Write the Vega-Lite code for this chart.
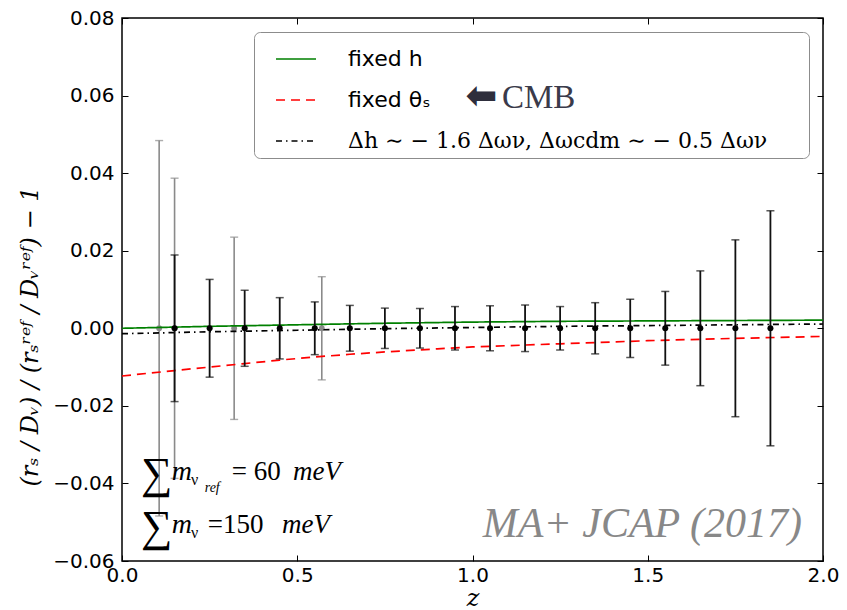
{
  "$schema": "https://vega.github.io/schema/vega-lite/v6.json",
  "width": 701,
  "height": 543,
  "autosize": {"type": "none"},
  "padding": {"left": 122, "top": 18, "right": 24, "bottom": 49},
  "background": "white",
  "config": {
    "view": {"stroke": "#000", "strokeWidth": 1.5},
    "axis": {
      "domain": false, "grid": false, "ticks": true, "tickColor": "#000",
      "tickSize": -6, "tickWidth": 1, "labelFont": "DejaVu Sans",
      "labelFontSize": 20, "labelColor": "#000", "labelFlush": false
    }
  },
  "datasets": {
    "curves": [
      {"z": 0.0, "v": 0.0, "series": "fixed h"},
      {"z": 0.1, "v": 0.0002, "series": "fixed h"},
      {"z": 0.25, "v": 0.0005, "series": "fixed h"},
      {"z": 0.5, "v": 0.0009, "series": "fixed h"},
      {"z": 0.75, "v": 0.0013, "series": "fixed h"},
      {"z": 1.0, "v": 0.0016, "series": "fixed h"},
      {"z": 1.25, "v": 0.0018, "series": "fixed h"},
      {"z": 1.5, "v": 0.0019, "series": "fixed h"},
      {"z": 1.75, "v": 0.002, "series": "fixed h"},
      {"z": 2.0, "v": 0.0021, "series": "fixed h"},
      {"z": 0.0, "v": -0.0123, "series": "fixed θₛ"},
      {"z": 0.15, "v": -0.0109, "series": "fixed θₛ"},
      {"z": 0.25, "v": -0.01, "series": "fixed θₛ"},
      {"z": 0.35, "v": -0.0091, "series": "fixed θₛ"},
      {"z": 0.45, "v": -0.0082, "series": "fixed θₛ"},
      {"z": 0.55, "v": -0.0074, "series": "fixed θₛ"},
      {"z": 0.65, "v": -0.0067, "series": "fixed θₛ"},
      {"z": 0.75, "v": -0.0061, "series": "fixed θₛ"},
      {"z": 0.9, "v": -0.0053, "series": "fixed θₛ"},
      {"z": 1.0, "v": -0.0048, "series": "fixed θₛ"},
      {"z": 1.25, "v": -0.004, "series": "fixed θₛ"},
      {"z": 1.5, "v": -0.0032, "series": "fixed θₛ"},
      {"z": 1.75, "v": -0.0026, "series": "fixed θₛ"},
      {"z": 2.0, "v": -0.0021, "series": "fixed θₛ"},
      {"z": 0.0, "v": -0.0014, "series": "Δh  ∼  − 1.6 Δων,  Δωcdm  ∼  − 0.5 Δων"},
      {"z": 0.25, "v": -0.0009, "series": "Δh  ∼  − 1.6 Δων,  Δωcdm  ∼  − 0.5 Δων"},
      {"z": 0.5, "v": -0.0005, "series": "Δh  ∼  − 1.6 Δων,  Δωcdm  ∼  − 0.5 Δων"},
      {"z": 0.75, "v": -0.0001, "series": "Δh  ∼  − 1.6 Δων,  Δωcdm  ∼  − 0.5 Δων"},
      {"z": 1.0, "v": 0.0002, "series": "Δh  ∼  − 1.6 Δων,  Δωcdm  ∼  − 0.5 Δων"},
      {"z": 1.25, "v": 0.0005, "series": "Δh  ∼  − 1.6 Δων,  Δωcdm  ∼  − 0.5 Δων"},
      {"z": 1.5, "v": 0.0007, "series": "Δh  ∼  − 1.6 Δων,  Δωcdm  ∼  − 0.5 Δων"},
      {"z": 1.75, "v": 0.0009, "series": "Δh  ∼  − 1.6 Δων,  Δωcdm  ∼  − 0.5 Δων"},
      {"z": 2.0, "v": 0.0011, "series": "Δh  ∼  − 1.6 Δων,  Δωcdm  ∼  − 0.5 Δων"}
    ],
    "bars": [
      {"z": 0.106, "v": 0, "lo": -0.0484, "hi": 0.0484, "set": "gray"},
      {"z": 0.15, "v": 0, "lo": -0.0387, "hi": 0.0387, "set": "gray"},
      {"z": 0.32, "v": 0, "lo": -0.0235, "hi": 0.0235, "set": "gray"},
      {"z": 0.57, "v": 0, "lo": -0.0133, "hi": 0.0133, "set": "gray"},
      {"z": 0.15, "v": 0, "lo": -0.0189, "hi": 0.0189, "set": "black"},
      {"z": 0.25, "v": 0, "lo": -0.0126, "hi": 0.0126, "set": "black"},
      {"z": 0.35, "v": 0, "lo": -0.0098, "hi": 0.0098, "set": "black"},
      {"z": 0.45, "v": 0, "lo": -0.0079, "hi": 0.0079, "set": "black"},
      {"z": 0.55, "v": 0, "lo": -0.0068, "hi": 0.0068, "set": "black"},
      {"z": 0.65, "v": 0, "lo": -0.0059, "hi": 0.0059, "set": "black"},
      {"z": 0.75, "v": 0, "lo": -0.0052, "hi": 0.0052, "set": "black"},
      {"z": 0.85, "v": 0, "lo": -0.0051, "hi": 0.0051, "set": "black"},
      {"z": 0.95, "v": 0, "lo": -0.0056, "hi": 0.0056, "set": "black"},
      {"z": 1.05, "v": 0, "lo": -0.0058, "hi": 0.0058, "set": "black"},
      {"z": 1.15, "v": 0, "lo": -0.006, "hi": 0.006, "set": "black"},
      {"z": 1.25, "v": 0, "lo": -0.0056, "hi": 0.0056, "set": "black"},
      {"z": 1.35, "v": 0, "lo": -0.0066, "hi": 0.0066, "set": "black"},
      {"z": 1.45, "v": 0, "lo": -0.0075, "hi": 0.0075, "set": "black"},
      {"z": 1.55, "v": 0, "lo": -0.0095, "hi": 0.0095, "set": "black"},
      {"z": 1.65, "v": 0, "lo": -0.0148, "hi": 0.0148, "set": "black"},
      {"z": 1.75, "v": 0, "lo": -0.0228, "hi": 0.0228, "set": "black"},
      {"z": 1.85, "v": 0, "lo": -0.0303, "hi": 0.0303, "set": "black"}
    ],
    "one": [{}]
  },
  "resolve": {"axis": {"x": "independent", "y": "independent"}},
  "layer": [
    {
      "data": {"name": "bars"},
      "transform": [{"filter": "datum.set == 'gray'"}],
      "mark": {"type": "rule", "color": "#8a8a8a", "strokeWidth": 1.6},
      "encoding": {
        "x": {"field": "z", "type": "quantitative", "scale": {"domain": [0, 2], "nice": false},
              "axis": {"orient": "top", "values": [0, 0.5, 1, 1.5, 2], "labels": false, "title": null}},
        "y": {"field": "lo", "type": "quantitative", "scale": {"domain": [-0.06, 0.08], "nice": false, "zero": false},
              "axis": {"orient": "right", "values": [-0.06, -0.04, -0.02, 0, 0.02, 0.04, 0.06, 0.08], "labels": false, "title": null}},
        "y2": {"field": "hi"}
      }
    },
    {
      "data": {"name": "bars"},
      "transform": [{"filter": "datum.set == 'gray'"}],
      "mark": {"type": "tick", "orient": "horizontal", "color": "#8a8a8a", "size": 8, "thickness": 1.4},
      "encoding": {
        "x": {"field": "z", "type": "quantitative", "axis": null},
        "y": {"field": "lo", "type": "quantitative", "axis": null}
      }
    },
    {
      "data": {"name": "bars"},
      "transform": [{"filter": "datum.set == 'gray'"}],
      "mark": {"type": "tick", "orient": "horizontal", "color": "#8a8a8a", "size": 8, "thickness": 1.4},
      "encoding": {
        "x": {"field": "z", "type": "quantitative", "axis": null},
        "y": {"field": "hi", "type": "quantitative", "axis": null}
      }
    },
    {
      "data": {"name": "bars"},
      "transform": [{"filter": "datum.set == 'gray'"}],
      "mark": {"type": "circle", "color": "#8a8a8a", "size": 34, "opacity": 1},
      "encoding": {
        "x": {"field": "z", "type": "quantitative", "axis": null},
        "y": {"field": "v", "type": "quantitative", "axis": null}
      }
    },
    {
      "data": {"name": "curves"},
      "mark": {"type": "line", "strokeWidth": 1.7},
      "encoding": {
        "x": {"field": "z", "type": "quantitative", "scale": {"domain": [0, 2], "nice": false},
              "axis": {"orient": "bottom", "values": [0, 0.5, 1, 1.5, 2], "format": ".1f", "labelPadding": 10,
                       "title": "z", "titleFont": "DejaVu Serif", "titleFontStyle": "italic", "titleFontWeight": "normal",
                       "titleFontSize": 24, "titleY": 44, "titleBaseline": "alphabetic"}},
        "y": {"field": "v", "type": "quantitative", "scale": {"domain": [-0.06, 0.08], "nice": false, "zero": false},
              "axis": {"orient": "left", "values": [-0.06, -0.04, -0.02, 0, 0.02, 0.04, 0.06, 0.08], "format": ".2f",
                       "labelPadding": 14,
                       "title": "(rₛ / Dᵥ) / (rₛʳᵉᶠ / Dᵥʳᵉᶠ) − 1", "titleFont": "DejaVu Serif", "titleFontStyle": "italic",
                       "titleFontWeight": "normal", "titleFontSize": 24, "titleX": -92, "titleY": 318,
                       "titleBaseline": "middle", "titleAngle": -90}},
        "color": {
          "field": "series", "type": "nominal",
          "scale": {"domain": ["fixed h", "fixed θₛ", "Δh  ∼  − 1.6 Δων,  Δωcdm  ∼  − 0.5 Δων"], "range": ["#008000", "#ff0000", "#000000"]},
          "legend": {
            "orient": "none", "legendX": 132, "legendY": 14, "title": null,
            "symbolType": "stroke", "symbolSize": 1600, "symbolStrokeWidth": 1.7, "symbolOffset": 15,
            "padding": 6, "labelOffset": 31, "rowPadding": 9, "labelFont": "DejaVu Sans", "labelFontSize": 22,
            "labelColor": "#000", "labelLimit": 700, "strokeColor": "#8c8c8c", "cornerRadius": 6,
            "encode": {"labels": {"update": {"font": {"signal": "indexof(datum.label, 'Δh') >= 0 ? 'DejaVu Serif' : 'DejaVu Sans'"}}}}
          }
        },
        "strokeDash": {
          "field": "series", "type": "nominal",
          "scale": {"domain": ["fixed h", "fixed θₛ", "Δh  ∼  − 1.6 Δων,  Δωcdm  ∼  − 0.5 Δων"], "range": [[1, 0], [9, 6], [6, 4, 1.5, 4]]},
          "legend": {
            "orient": "none", "legendX": 132, "legendY": 14, "title": null,
            "symbolType": "stroke", "symbolSize": 1600, "symbolStrokeWidth": 1.7, "symbolOffset": 15,
            "padding": 6, "labelOffset": 31, "rowPadding": 9, "labelFont": "DejaVu Sans", "labelFontSize": 22,
            "labelColor": "#000", "labelLimit": 700, "strokeColor": "#8c8c8c", "cornerRadius": 6,
            "encode": {"labels": {"update": {"font": {"signal": "indexof(datum.label, 'Δh') >= 0 ? 'DejaVu Serif' : 'DejaVu Sans'"}}}}
          }
        }
      }
    },
    {
      "data": {"name": "bars"},
      "transform": [{"filter": "datum.set == 'black'"}],
      "mark": {"type": "rule", "color": "#111", "strokeWidth": 1.8},
      "encoding": {
        "x": {"field": "z", "type": "quantitative", "axis": null},
        "y": {"field": "lo", "type": "quantitative", "axis": null},
        "y2": {"field": "hi"}
      }
    },
    {
      "data": {"name": "bars"},
      "transform": [{"filter": "datum.set == 'black'"}],
      "mark": {"type": "tick", "orient": "horizontal", "color": "#111", "size": 8, "thickness": 1.5},
      "encoding": {
        "x": {"field": "z", "type": "quantitative", "axis": null},
        "y": {"field": "lo", "type": "quantitative", "axis": null}
      }
    },
    {
      "data": {"name": "bars"},
      "transform": [{"filter": "datum.set == 'black'"}],
      "mark": {"type": "tick", "orient": "horizontal", "color": "#111", "size": 8, "thickness": 1.5},
      "encoding": {
        "x": {"field": "z", "type": "quantitative", "axis": null},
        "y": {"field": "hi", "type": "quantitative", "axis": null}
      }
    },
    {
      "data": {"name": "bars"},
      "transform": [{"filter": "datum.set == 'black'"}],
      "mark": {"type": "circle", "color": "#000", "size": 36, "opacity": 1},
      "encoding": {
        "x": {"field": "z", "type": "quantitative", "axis": null},
        "y": {"field": "v", "type": "quantitative", "axis": null}
      }
    },
    {
      "data": {"name": "one"},
      "mark": {"type": "text", "font": "DejaVu Sans", "fontWeight": "bold", "fontSize": 38, "color": "#2e2e3c", "align": "center", "baseline": "middle"},
      "encoding": {"x": {"datum": 1.0257, "type": "quantitative", "axis": null}, "y": {"datum": 0.0597, "type": "quantitative", "axis": null}, "text": {"value": "⬅"}}
    },
    {
      "data": {"name": "one"},
      "mark": {"type": "text", "font": "Liberation Serif", "fontSize": 33, "color": "#3a3a4a", "align": "left", "baseline": "alphabetic"},
      "encoding": {"x": {"datum": 1.084, "type": "quantitative", "axis": null}, "y": {"datum": 0.0568, "type": "quantitative", "axis": null}, "text": {"value": "CMB"}}
    },
    {
      "data": {"name": "one"},
      "mark": {"type": "text", "font": "Liberation Serif", "fontStyle": "italic", "fontSize": 42, "color": "#888", "align": "right", "baseline": "alphabetic"},
      "encoding": {"x": {"datum": 1.94, "type": "quantitative", "axis": null}, "y": {"datum": -0.0539, "type": "quantitative", "axis": null}, "text": {"value": "MA+ JCAP (2017)"}}
    },
    {
      "data": {"name": "one"},
      "mark": {"type": "text", "font": "Liberation Serif", "fontSize": 44, "color": "#000", "align": "left", "baseline": "alphabetic"},
      "encoding": {"x": {"datum": 0.054, "type": "quantitative", "axis": null}, "y": {"datum": -0.0412, "type": "quantitative", "axis": null}, "text": {"value": "∑"}}
    },
    {
      "data": {"name": "one"},
      "mark": {"type": "text", "font": "Liberation Serif", "fontSize": 44, "color": "#000", "align": "left", "baseline": "alphabetic"},
      "encoding": {"x": {"datum": 0.054, "type": "quantitative", "axis": null}, "y": {"datum": -0.0549, "type": "quantitative", "axis": null}, "text": {"value": "∑"}}
    },
    {
      "data": {"name": "one"},
      "mark": {"type": "text", "font": "Liberation Serif", "fontStyle": "italic", "fontSize": 28, "color": "#000", "align": "left", "baseline": "alphabetic"},
      "encoding": {"x": {"datum": 0.1416, "type": "quantitative", "axis": null}, "y": {"datum": -0.0391, "type": "quantitative", "axis": null}, "text": {"value": "m"}}
    },
    {
      "data": {"name": "one"},
      "mark": {"type": "text", "font": "Liberation Serif", "fontStyle": "italic", "fontSize": 28, "color": "#000", "align": "left", "baseline": "alphabetic"},
      "encoding": {"x": {"datum": 0.1416, "type": "quantitative", "axis": null}, "y": {"datum": -0.0528, "type": "quantitative", "axis": null}, "text": {"value": "m"}}
    },
    {
      "data": {"name": "one"},
      "mark": {"type": "text", "font": "Liberation Serif", "fontSize": 16, "color": "#000", "align": "left", "baseline": "alphabetic"},
      "encoding": {"x": {"datum": 0.197, "type": "quantitative", "axis": null}, "y": {"datum": -0.0403, "type": "quantitative", "axis": null}, "text": {"value": "ν"}}
    },
    {
      "data": {"name": "one"},
      "mark": {"type": "text", "font": "Liberation Serif", "fontSize": 16, "color": "#000", "align": "left", "baseline": "alphabetic"},
      "encoding": {"x": {"datum": 0.197, "type": "quantitative", "axis": null}, "y": {"datum": -0.054, "type": "quantitative", "axis": null}, "text": {"value": "ν"}}
    },
    {
      "data": {"name": "one"},
      "mark": {"type": "text", "font": "Liberation Serif", "fontStyle": "italic", "fontSize": 14, "color": "#000", "align": "left", "baseline": "alphabetic"},
      "encoding": {"x": {"datum": 0.236, "type": "quantitative", "axis": null}, "y": {"datum": -0.0422, "type": "quantitative", "axis": null}, "text": {"value": "ref"}}
    },
    {
      "data": {"name": "one"},
      "mark": {"type": "text", "font": "Liberation Serif", "fontSize": 27, "color": "#000", "align": "left", "baseline": "alphabetic"},
      "encoding": {"x": {"datum": 0.313, "type": "quantitative", "axis": null}, "y": {"datum": -0.0391, "type": "quantitative", "axis": null}, "text": {"value": "= 60"}}
    },
    {
      "data": {"name": "one"},
      "mark": {"type": "text", "font": "Liberation Serif", "fontSize": 27, "color": "#000", "align": "left", "baseline": "alphabetic"},
      "encoding": {"x": {"datum": 0.245, "type": "quantitative", "axis": null}, "y": {"datum": -0.0528, "type": "quantitative", "axis": null}, "text": {"value": "=150"}}
    },
    {
      "data": {"name": "one"},
      "mark": {"type": "text", "font": "Liberation Serif", "fontStyle": "italic", "fontSize": 27, "color": "#000", "align": "left", "baseline": "alphabetic"},
      "encoding": {"x": {"datum": 0.488, "type": "quantitative", "axis": null}, "y": {"datum": -0.0391, "type": "quantitative", "axis": null}, "text": {"value": "meV"}}
    },
    {
      "data": {"name": "one"},
      "mark": {"type": "text", "font": "Liberation Serif", "fontStyle": "italic", "fontSize": 27, "color": "#000", "align": "left", "baseline": "alphabetic"},
      "encoding": {"x": {"datum": 0.4565, "type": "quantitative", "axis": null}, "y": {"datum": -0.0528, "type": "quantitative", "axis": null}, "text": {"value": "meV"}}
    }
  ]
}
